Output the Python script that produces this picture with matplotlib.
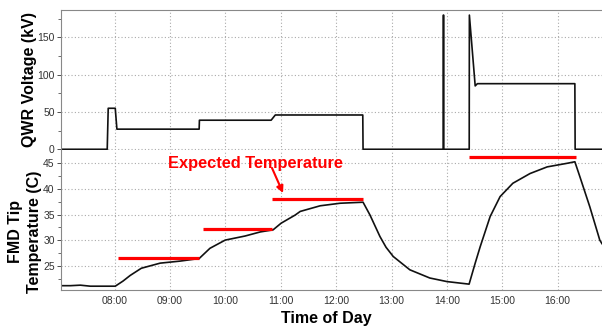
import numpy as np
import matplotlib.pyplot as plt
from matplotlib.ticker import FuncFormatter, MultipleLocator

plt.rcParams['font.family'] = ['Liberation Sans', 'DejaVu Sans']

# QWR voltage (kV), time in decimal hours
volt_t = [7.03, 7.865, 7.883, 8.01, 8.04, 9.525, 9.53, 10.825, 10.90, 12.48, 12.485,
          13.932, 13.935, 13.94, 13.943, 14.402, 14.405, 14.51, 14.55, 16.31, 16.315, 16.8]
volt_kv = [0, 0, 55, 55, 27, 27, 39, 39, 46, 46, 0,
           0, 180, 180, 0, 0, 180, 85, 88, 88, 0, 0]

# FMD tip temperature (C)
temp_t = [7.03, 7.2, 7.38, 7.56, 8.01, 8.15, 8.28, 8.48, 8.82, 9.18, 9.525, 9.72, 9.995,
          10.355, 10.63, 10.86, 11.005, 11.26, 11.35, 11.71, 12.07, 12.485, 12.61, 12.79,
          12.9, 13.03, 13.33, 13.69, 14.0, 14.40, 14.51, 14.60, 14.78, 14.96, 15.19,
          15.50, 15.81, 16.17, 16.31, 16.40, 16.58, 16.76, 16.8]
temp_c = [21.1, 21.1, 21.2, 21.0, 21.0, 22.0, 23.1, 24.5, 25.5, 25.9, 26.4, 28.4, 30.0,
          30.8, 31.6, 32.0, 33.3, 34.9, 35.6, 36.7, 37.2, 37.4, 34.9, 30.7,
          28.6, 26.8, 24.2, 22.6, 21.9, 21.4, 25.5, 28.7, 34.6, 38.5, 41.1,
          43.0, 44.3, 45.0, 45.3, 42.4, 36.5, 30.0, 29.3]

# expected temperature segments
exp_start = [8.06, 9.60, 10.84, 14.405]
exp_end = [9.525, 10.84, 12.48, 16.33]
exp_temp = [26.6, 32.2, 38.1, 46.3]

hour_ticks = [8, 9, 10, 11, 12, 13, 14, 15, 16]

fig = plt.figure(figsize=(6.02, 3.29), dpi=100)
ax1 = fig.add_axes([0.1013, 0.544, 0.8987, 0.426])
ax2 = fig.add_axes([0.1013, 0.120, 0.8987, 0.421], sharex=ax1)

grid_kw = dict(color='#aaaaaa', linestyle=(0, (1, 2)), linewidth=0.8)

ax1.plot(volt_t, volt_kv, color='#111111', linewidth=1.2)
ax1.set_ylim(-1, 187)
ax1.set_yticks([0, 50, 100, 150])
ax1.yaxis.set_minor_locator(MultipleLocator(25))
ax1.set_ylabel('QWR Voltage (kV)', fontsize=11.5, fontweight='bold')
ax1.yaxis.label.set_va('center')
ax1.yaxis.set_label_coords(-0.058, 0.5)
ax1.tick_params(axis='x', which='both', bottom=False, labelbottom=False)

ax2.plot(temp_t, temp_c, color='#111111', linewidth=1.2)
ax2.hlines(exp_temp, exp_start, exp_end, colors='#ff0000', linewidth=2.3)
ax2.set_ylim(20.35, 47.4)
ax2.set_yticks([25, 30, 35, 40, 45])
ax2.yaxis.set_minor_locator(MultipleLocator(2.5))
ax2.set_ylabel('FMD Tip\nTemperature (C)', fontsize=11.5, fontweight='bold',
               linespacing=1.3)
ax2.yaxis.label.set_va('center')
ax2.yaxis.set_label_coords(-0.067, 0.42)
ax2.set_xlabel('Time of Day', fontsize=11.5, fontweight='bold')
ax2.xaxis.label.set_va('center')
ax2.xaxis.set_label_coords(0.49, -0.206)

ax2.set_xlim(7.03, 16.8)
ax2.set_xticks(hour_ticks)
ax2.xaxis.set_major_formatter(FuncFormatter(lambda v, p: f'{int(v):02d}:00'))

ax2.text(10.55, 45.0, 'Expected Temperature', color='#ff0000', fontsize=11.8,
         fontweight='bold', ha='center', va='center')
ax2.annotate('', xy=(11.04, 39.2), xytext=(10.84, 44.1),
             arrowprops=dict(arrowstyle='-|>', color='#ff0000', lw=1.5,
                             mutation_scale=10, shrinkA=0, shrinkB=0))

for ax in (ax1, ax2):
    ax.grid(True, **grid_kw)
    ax.set_axisbelow(True)
    ax.tick_params(axis='both', labelsize=7.5, colors='#333333', length=3, width=0.6, pad=1.5)
    ax.tick_params(axis='y', which='minor', length=2, width=0.6, colors='#555555')
    for s in ax.spines.values():
        s.set_color('#888888')
        s.set_linewidth(0.8)
    ax.spines['right'].set_visible(False)

ax1.spines['bottom'].set_visible(False)
ax2.spines['top'].set_visible(False)
ax2.tick_params(axis='x', length=0, pad=5)

plt.savefig('out.png', dpi=100)
